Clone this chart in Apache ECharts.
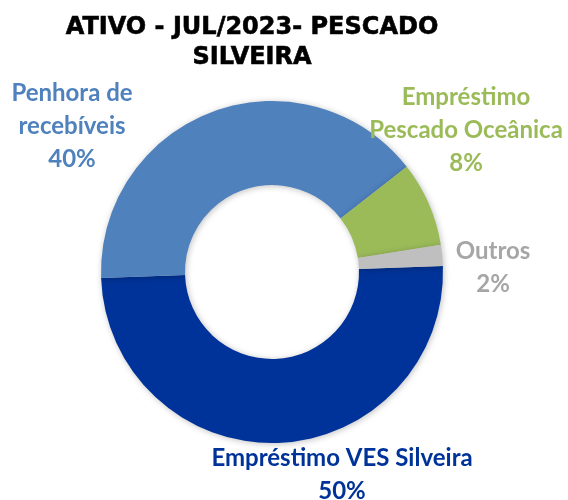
<!DOCTYPE html>
<html>
<head>
<meta charset="utf-8">
<script src="https://cdn.jsdelivr.net/npm/echarts@6/dist/echarts.min.js"></script>
<style>
html, body { margin: 0; padding: 0; background: #fff; }
#main { width: 568px; height: 500px; }
</style>
</head>
<body>
<div id="main"></div>
<script>
// dados do gráfico
var categorias = ['Empréstimo VES Silveira', 'Penhora de\nrecebíveis', 'Empréstimo\nPescado Oceânica', 'Outros']
var valores = [50, 40, 8, 2]
var cores = ['#003399', '#4F81BD', '#9BBB59', '#BFBFBF']
var coresTexto = ['#003399', '#4F81BD', '#9BBB59', '#A6A6A6']

// posição dos rótulos (centro do bloco de texto)
var posRotulo = [[342, 475], [72, 126], [466, 130], [493, 268]]

var chart = echarts.init(document.getElementById('main'))
var option = {
    backgroundColor: '#fff',
    animation: false,
    title: {
        text: 'ATIVO - JUL/2023- PESCADO\nSILVEIRA',
        left: 247,
        top: 8,
        textAlign: 'center',
        textStyle: {
            fontFamily: 'DejaVu Sans',
            fontWeight: 'bold',
            fontSize: 24,
            lineHeight: 30,
            color: '#000',
            textBorderColor: '#000',
            textBorderWidth: 0.6
        }
    },
    series: [{
        type: 'pie',
        center: [272, 272],
        radius: [87, 171],
        startAngle: 2,
        clockwise: true,
        itemStyle: {
            shadowBlur: 6,
            shadowColor: 'rgba(0,0,0,0.25)',
            shadowOffsetX: 1,
            shadowOffsetY: 1
        },
        label: {
            show: true,
            position: 'outside',
            fontFamily: 'Lato',
            fontWeight: 'bold',
            fontSize: 24,
            lineHeight: 33,
            align: 'center',
            overflow: 'none',
            width: 240,
            formatter: function (p) {
                return p.name + '\n' + p.value + '%'
            }
        },
        labelLine: { show: false },
        labelLayout: function (p) {
            var pos = posRotulo[p.dataIndex]
            return { x: pos[0], y: pos[1], align: 'center', verticalAlign: 'middle' }
        },
        data: categorias.map(function (c, i) {
            return {
                name: c,
                value: valores[i],
                itemStyle: { color: cores[i] },
                label: { color: coresTexto[i] }
            }
        })
    }]
}
chart.setOption(option)
</script>
</body>
</html>
